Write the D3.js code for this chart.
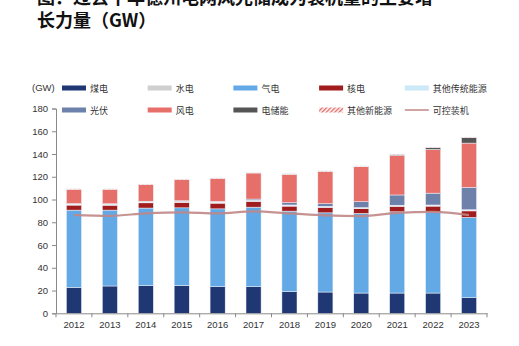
<!DOCTYPE html>
<html>
<head>
<meta charset="utf-8">
<script src="https://cdn.jsdelivr.net/npm/d3@7"></script>
<style>
body { margin: 0; background: #fff; }
svg { display: block; }
</style>
</head>
<body>
<div class="container"></div>
<script>
var years = ["2012","2013","2014","2015","2016","2017","2018","2019","2020","2021","2022","2023"];
var coal     = [22.8, 24.0, 24.4, 24.4, 23.4, 23.4, 19.0, 18.7, 17.8, 17.8, 17.8, 13.7];
var hydro    = [0.6, 0.6, 0.6, 0.6, 0.6, 0.6, 0.6, 0.6, 0.6, 0.6, 0.6, 0.6];
var gas      = [67.9, 66.7, 68.1, 68.3, 68.4, 69.9, 70.8, 69.6, 70.0, 71.4, 71.1, 70.6];
var nuclear  = [4.4, 4.3, 4.6, 4.7, 5.0, 5.0, 4.4, 4.7, 4.1, 4.8, 5.3, 5.7];
var otherOld = [0.4, 0.4, 0.4, 0.4, 0.4, 0.4, 0.4, 0.4, 0.4, 0.4, 0.4, 0.4];
var solar    = [0.3, 0.3, 0.4, 0.5, 0.6, 1.1, 2.0, 2.3, 5.2, 9.0, 10.4, 19.6];
var wind     = [12.6, 12.7, 14.6, 18.5, 20.0, 22.9, 24.9, 28.2, 30.7, 34.8, 38.4, 39.0];
var storage  = [0.0, 0.0, 0.1, 0.1, 0.2, 0.2, 0.2, 0.3, 0.4, 0.8, 1.6, 4.8];
var otherNew = [0.4, 0.4, 0.4, 0.4, 0.4, 0.4, 0.4, 0.4, 0.4, 0.4, 0.4, 0.4];
var firm     = [86.3, 85.7, 87.8, 88.7, 87.8, 89.5, 87.8, 86.0, 85.4, 88.3, 89.2, 86.3];
var yTicks   = [0, 20, 40, 60, 80, 100, 120, 140, 160, 180];

// stack order from the bottom up
var series = [
  {key: "coal",     name: "煤电",       vals: coal,     color: "#1f3873"},
  {key: "gas",      name: "气电",       vals: gas,      color: "#63a9e6"},
  {key: "nuclear",  name: "核电",       vals: nuclear,  color: "#a11d1d"},
  {key: "hydro",    name: "水电",       vals: hydro,    color: "#cfcfcf"},
  {key: "otherOld", name: "其他传统能源", vals: otherOld, color: "#cce9f7"},
  {key: "solar",    name: "光伏",       vals: solar,    color: "#6d81aa"},
  {key: "wind",     name: "风电",       vals: wind,     color: "#e76f6a"},
  {key: "storage",  name: "电储能",     vals: storage,  color: "#555555"},
  {key: "otherNew", name: "其他新能源",  vals: otherNew, color: "url(#hatch)"}
];

var rows = years.map(function(y, i){
  var r = {year: y};
  series.forEach(function(s){ r[s.key] = s.vals[i]; });
  return r;
});

var W = 519, H = 346;
var svg = d3.select('.container').append('svg').attr('width', W).attr('height', H);

var defs = svg.append('defs');
var pat = defs.append('pattern').attr('id', 'hatch').attr('patternUnits', 'userSpaceOnUse')
  .attr('width', 3).attr('height', 3).attr('patternTransform', 'rotate(45)');
pat.append('rect').attr('width', 3).attr('height', 3).attr('fill', '#fff');
pat.append('rect').attr('width', 1.4).attr('height', 3).attr('fill', '#e06a66');

// title, first line runs off the top
var title = svg.append('g').attr('font-family', '"Noto Sans CJK SC", sans-serif')
  .attr('font-weight', 'bold').attr('font-size', 18).attr('fill', '#111');
title.append('text').attr('x', 37).attr('y', 4).text('图：过去十年德州电网风光储成为装机量的主要增');
title.append('text').attr('x', 37).attr('y', 27).text('长力量（GW）');

var x0 = 56, x1 = 487, yBot = 313.3, yTop = 108.5;
var x = d3.scaleBand().domain(years).range([x0, x1]).paddingInner(0.58).paddingOuter(0.29);
var y = d3.scaleLinear().domain([0, 180]).range([yBot, yTop]);

var stack = d3.stack().keys(series.map(function(s){ return s.key; }));
var stacked = stack(rows);

var layers = svg.append('g').selectAll('g').data(stacked).enter().append('g')
  .attr('fill', function(d, i){ return series[i].color; });
layers.selectAll('rect').data(function(d){ return d; }).enter().append('rect')
  .attr('x', function(d){ return x(d.data.year); })
  .attr('width', x.bandwidth())
  .attr('y', function(d){ return y(d[1]); })
  .attr('height', function(d){ return Math.max(0, y(d[0]) - y(d[1])); })
  .attr('stroke', '#f2f4f8').attr('stroke-width', 0.5);

// controllable capacity line
var line = d3.line()
  .x(function(d, i){ return x(years[i]) + x.bandwidth() / 2; })
  .y(function(d){ return y(d); })
  .curve(d3.curveMonotoneX);
svg.append('path').datum(firm).attr('d', line)
  .attr('fill', 'none').attr('stroke', '#c08686').attr('stroke-width', 2.2).attr('opacity', 0.9);

// axes
var axisColor = '#8a8a8a';
var yAxis = svg.append('g').attr('transform', 'translate(' + x0 + ',0)')
  .call(d3.axisLeft(y).tickValues(yTicks).tickSize(4).tickPadding(4));
yAxis.select('.domain').attr('stroke', axisColor);
yAxis.selectAll('.tick line').attr('stroke', axisColor);
yAxis.selectAll('text').attr('font-family', '"Liberation Sans", Arial, sans-serif')
  .attr('font-size', 9.5).attr('fill', '#333');

var xAxis = svg.append('g').attr('transform', 'translate(0,' + yBot + ')')
  .call(d3.axisBottom(x).tickSize(0).tickPadding(8));
xAxis.select('.domain').attr('stroke', axisColor);
xAxis.selectAll('text').attr('font-family', '"Liberation Sans", Arial, sans-serif')
  .attr('font-size', 9.5).attr('fill', '#333');
var step = x.step();
xAxis.selectAll('line.sep').data(d3.range(years.length + 1)).enter().append('line')
  .attr('class', 'sep')
  .attr('x1', function(i){ return x0 + i * step; })
  .attr('x2', function(i){ return x0 + i * step; })
  .attr('y1', 0).attr('y2', 4).attr('stroke', axisColor);

svg.append('text').attr('x', 32).attr('y', 91)
  .attr('font-family', '"Liberation Sans", Arial, sans-serif').attr('font-size', 9.5)
  .attr('fill', '#333').text('(GW)');

// legend
var legendItems = [
  {name: "煤电", color: "#1f3873"}, {name: "水电", color: "#cfcfcf"},
  {name: "气电", color: "#63a9e6"}, {name: "核电", color: "#a11d1d"},
  {name: "其他传统能源", color: "#cce9f7"},
  {name: "光伏", color: "#6d81aa"}, {name: "风电", color: "#e76f6a"},
  {name: "电储能", color: "#555555"}, {name: "其他新能源", color: "url(#hatch)"},
  {name: "可控装机", color: "#c08686", isLine: true}
];
var legend = svg.append('g');
var lg = legend.selectAll('g').data(legendItems).enter().append('g')
  .attr('transform', function(d, i){
    return 'translate(' + (62 + (i % 5) * 85.7) + ',' + (i < 5 ? 88 : 110) + ')';
  });
lg.each(function(d){
  var g = d3.select(this);
  if (d.isLine) {
    g.append('line').attr('x1', 0).attr('x2', 24).attr('y1', 0).attr('y2', 0)
      .attr('stroke', d.color).attr('stroke-width', 1.5);
  } else {
    g.append('rect').attr('x', 0).attr('y', -2.5).attr('width', 24).attr('height', 5).attr('fill', d.color);
  }
});
lg.append('text').attr('x', 28).attr('y', 3.5)
  .attr('font-family', '"Noto Sans CJK SC", sans-serif').attr('font-size', 9)
  .attr('fill', '#333').text(function(d){ return d.name; });
</script>
</body>
</html>
